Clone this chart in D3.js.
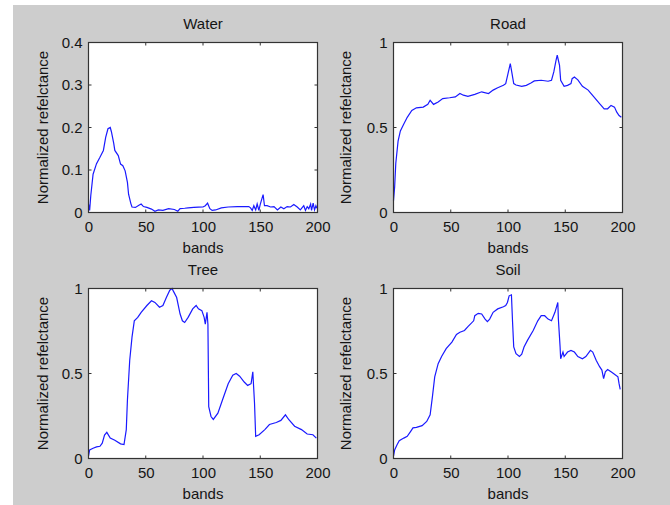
<!DOCTYPE html>
<html>
<head>
<meta charset="utf-8">
<script src="https://cdn.jsdelivr.net/npm/d3@7"></script>
<style>
  body { margin: 0; background: #fff; }
  text { font-family: "Liberation Sans", Arial, sans-serif; fill: #151515; }
</style>
</head>
<body>
<svg id="fig" width="670" height="505"></svg>
<script>
// band axis ticks (shared)
var bandTicks = [0, 50, 100, 150, 200];
var waterTicks = [0, 0.1, 0.2, 0.3, 0.4];
var unitTicks = [0, 0.5, 1];

// spectra: band number -> normalized reflectance
var waterBands = [0, 1, 2, 4, 7, 10, 13, 15, 17, 19, 20, 22, 23, 26, 28, 30, 32, 34, 35, 37, 38, 41, 44, 46, 48, 51, 55, 58, 61, 65, 70, 75, 78, 80, 84, 87, 92, 96, 100, 102, 104, 106, 108, 111, 116, 122, 130, 140, 141.5, 143, 144.4, 146, 147.3, 148.8, 150, 152.5, 153.7, 156, 159, 162, 165, 168, 170.6, 173.5, 176.4, 179.3, 182.3, 185, 188, 189.5, 191, 192.4, 194, 194.8, 196.2, 197.4, 198.6, 199.5];
var waterRefl = [0.02, 0.005, 0.04, 0.09, 0.115, 0.13, 0.146, 0.177, 0.197, 0.2, 0.19, 0.163, 0.146, 0.134, 0.114, 0.11, 0.098, 0.071, 0.043, 0.021, 0.013, 0.012, 0.017, 0.02, 0.014, 0.012, 0.008, 0.003, 0.006, 0.005, 0.009, 0.007, 0.003, 0.009, 0.01, 0.011, 0.012, 0.0125, 0.013, 0.016, 0.022, 0.009, 0.005, 0.006, 0.011, 0.013, 0.014, 0.014, 0.011, 0.005, 0.016, 0.006, 0.02, 0.005, 0.019, 0.042, 0.016, 0.016, 0.013, 0.014, 0.006, 0.013, 0.009, 0.014, 0.013, 0.019, 0.013, 0.006, 0.016, 0.005, 0.014, 0.009, 0.02, 0.005, 0.022, 0.006, 0.016, 0.01];

var roadBands = [0, 1, 2, 4, 6, 9, 12, 16, 20, 26, 30, 32, 35, 39, 43, 49, 54, 58, 61, 65, 71, 77, 83, 87, 91, 96, 98, 100, 102, 103, 105, 107, 112, 116, 120, 123, 129, 135, 138, 140, 142, 143, 145, 146, 149, 152, 155, 156, 158, 161, 165, 170, 175, 180, 184, 187, 190, 193, 195, 197, 199];
var roadRefl = [0.07, 0.15, 0.29, 0.42, 0.48, 0.52, 0.56, 0.6, 0.616, 0.62, 0.636, 0.66, 0.636, 0.65, 0.67, 0.675, 0.68, 0.7, 0.69, 0.683, 0.695, 0.71, 0.7, 0.72, 0.734, 0.748, 0.758, 0.817, 0.876, 0.837, 0.758, 0.75, 0.742, 0.748, 0.762, 0.774, 0.778, 0.772, 0.778, 0.827, 0.896, 0.925, 0.866, 0.778, 0.742, 0.748, 0.758, 0.787, 0.797, 0.78, 0.742, 0.72, 0.68, 0.64, 0.61, 0.61, 0.63, 0.62, 0.59, 0.57, 0.56];

var treeBands = [0, 1, 4, 7, 10, 12, 14, 16, 19, 23, 28, 31, 33, 34, 36, 38, 40, 43, 46, 51, 55, 58, 62, 65, 68, 71, 73, 74, 77, 80, 82, 84, 87, 91, 94, 96, 99, 101, 102, 103.5, 104.3, 105, 107, 109, 113, 117, 122, 126, 129, 132, 136, 139, 142, 143.5, 145, 146, 149, 154, 158, 164, 168, 172, 175, 180, 186, 191, 196, 199];
var treeRefl = [0.014, 0.05, 0.06, 0.068, 0.072, 0.09, 0.138, 0.154, 0.12, 0.107, 0.086, 0.082, 0.17, 0.344, 0.578, 0.714, 0.81, 0.83, 0.86, 0.9, 0.928, 0.918, 0.89, 0.9, 0.947, 0.99, 1.0, 0.986, 0.947, 0.85, 0.81, 0.8, 0.83, 0.88, 0.9, 0.88, 0.87, 0.83, 0.79, 0.86, 0.79, 0.305, 0.247, 0.23, 0.267, 0.344, 0.44, 0.49, 0.5, 0.484, 0.45, 0.43, 0.44, 0.51, 0.325, 0.13, 0.14, 0.17, 0.2, 0.212, 0.224, 0.257, 0.228, 0.19, 0.17, 0.144, 0.14, 0.12];

var soilBands = [0, 1, 3, 5, 9, 12, 15, 17, 20, 25, 29, 32, 34, 36, 39, 42, 46, 51, 55, 58, 62, 65, 70, 71, 74, 77, 80, 82, 84, 87, 91, 96, 98, 99.5, 101, 103, 104, 105, 107, 110, 112, 114, 117, 122, 126, 129, 132, 135, 138, 141, 143.5, 144, 145.5, 146, 148, 149, 152, 155, 158, 161, 165, 168, 172, 174, 177, 180, 182, 183.5, 185, 187, 190, 193, 196, 197, 198];
var soilRefl = [0.014, 0.05, 0.08, 0.105, 0.12, 0.13, 0.16, 0.18, 0.183, 0.193, 0.218, 0.257, 0.364, 0.48, 0.558, 0.6, 0.646, 0.685, 0.73, 0.743, 0.753, 0.776, 0.81, 0.84, 0.854, 0.85, 0.82, 0.805, 0.82, 0.86, 0.88, 0.893, 0.9, 0.918, 0.957, 0.963, 0.8, 0.656, 0.617, 0.6, 0.613, 0.656, 0.695, 0.753, 0.81, 0.84, 0.84, 0.82, 0.81, 0.86, 0.918, 0.82, 0.656, 0.587, 0.626, 0.6, 0.626, 0.636, 0.626, 0.6, 0.587, 0.6, 0.636, 0.626, 0.578, 0.54, 0.52, 0.47, 0.51, 0.523, 0.51, 0.496, 0.48, 0.44, 0.407];

var panels = [
    { title: "Water", bands: waterBands, refl: waterRefl, yMax: 0.4, yTicks: waterTicks, col: 0, row: 0 },
    { title: "Road",  bands: roadBands,  refl: roadRefl,  yMax: 1,   yTicks: unitTicks,  col: 1, row: 0 },
    { title: "Tree",  bands: treeBands,  refl: treeRefl,  yMax: 1,   yTicks: unitTicks,  col: 0, row: 1 },
    { title: "Soil",  bands: soilBands,  refl: soilRefl,  yMax: 1,   yTicks: unitTicks,  col: 1, row: 1 }
];

var svg = d3.select("#fig");

// grey figure background (leaves a white strip top/left like the screenshot)
svg.append("rect")
    .attr("x", 13).attr("y", 5)
    .attr("width", 657).attr("height", 500)
    .attr("fill", "#cdcdcd");

var colLeft = [88.5, 393.5];
var rowTop = [42.5, 288.5];
var width = 229, height = 170;
var tickLen = 3;

panels.forEach(function(p) {
    var g = svg.append("g")
        .attr("transform", "translate(" + colLeft[p.col] + "," + rowTop[p.row] + ")");

    var x = d3.scaleLinear().domain([0, 200]).range([0, width]);
    var y = d3.scaleLinear().domain([0, p.yMax]).range([height, 0]);

    g.append("rect")
        .attr("width", width).attr("height", height)
        .attr("fill", "#fff");

    // inward ticks on all four sides, MATLAB box style
    var xAx = d3.axisBottom(x).tickValues(bandTicks).tickSize(0).tickPadding(9);
    var yAx = d3.axisLeft(y).tickValues(p.yTicks).tickSize(0).tickPadding(6)
        .tickFormat(d3.format("~g"));

    var gx = g.append("g").attr("transform", "translate(0," + height + ")").call(xAx);
    var gy = g.append("g").call(yAx);
    [gx, gy].forEach(function(a) {
        a.select(".domain").remove();
        a.selectAll("text")
            .style("font-size", "15px")
            .style("font-family", "'Liberation Sans', Arial, sans-serif")
            .attr("fill", "#151515");
    });

    var ticks = g.append("g").attr("stroke", "#333").attr("stroke-width", 1);
    bandTicks.forEach(function(t) {
        ticks.append("line").attr("x1", x(t)).attr("x2", x(t)).attr("y1", height).attr("y2", height - tickLen);
        ticks.append("line").attr("x1", x(t)).attr("x2", x(t)).attr("y1", 0).attr("y2", tickLen);
    });
    p.yTicks.forEach(function(t) {
        ticks.append("line").attr("x1", 0).attr("x2", tickLen).attr("y1", y(t)).attr("y2", y(t));
        ticks.append("line").attr("x1", width).attr("x2", width - tickLen).attr("y1", y(t)).attr("y2", y(t));
    });

    var pts = p.bands.map(function(b, i) { return [b, p.refl[i]]; });
    g.append("path")
        .datum(pts)
        .attr("fill", "none")
        .attr("stroke", "#1a1aff")
        .attr("stroke-width", 1.2)
        .attr("d", d3.line().x(function(d) { return x(d[0]); }).y(function(d) { return y(d[1]); }));

    g.append("rect")
        .attr("width", width).attr("height", height)
        .attr("fill", "none")
        .attr("stroke", "#333")
        .attr("stroke-width", 1.2);

    g.append("text")
        .attr("x", width / 2).attr("y", -14)
        .attr("text-anchor", "middle")
        .style("font-size", "15px")
        .text(p.title);

    g.append("text")
        .attr("x", width / 2).attr("y", height + 40)
        .attr("text-anchor", "middle")
        .style("font-size", "15px")
        .text("bands");

    g.append("text")
        .attr("transform", "translate(" + (p.col === 0 ? -41 : -43) + "," + (height / 2) + ") rotate(-90)")
        .attr("text-anchor", "middle")
        .style("font-size", "15px")
        .text("Normalized refelctance");
});
</script>
</body>
</html>
